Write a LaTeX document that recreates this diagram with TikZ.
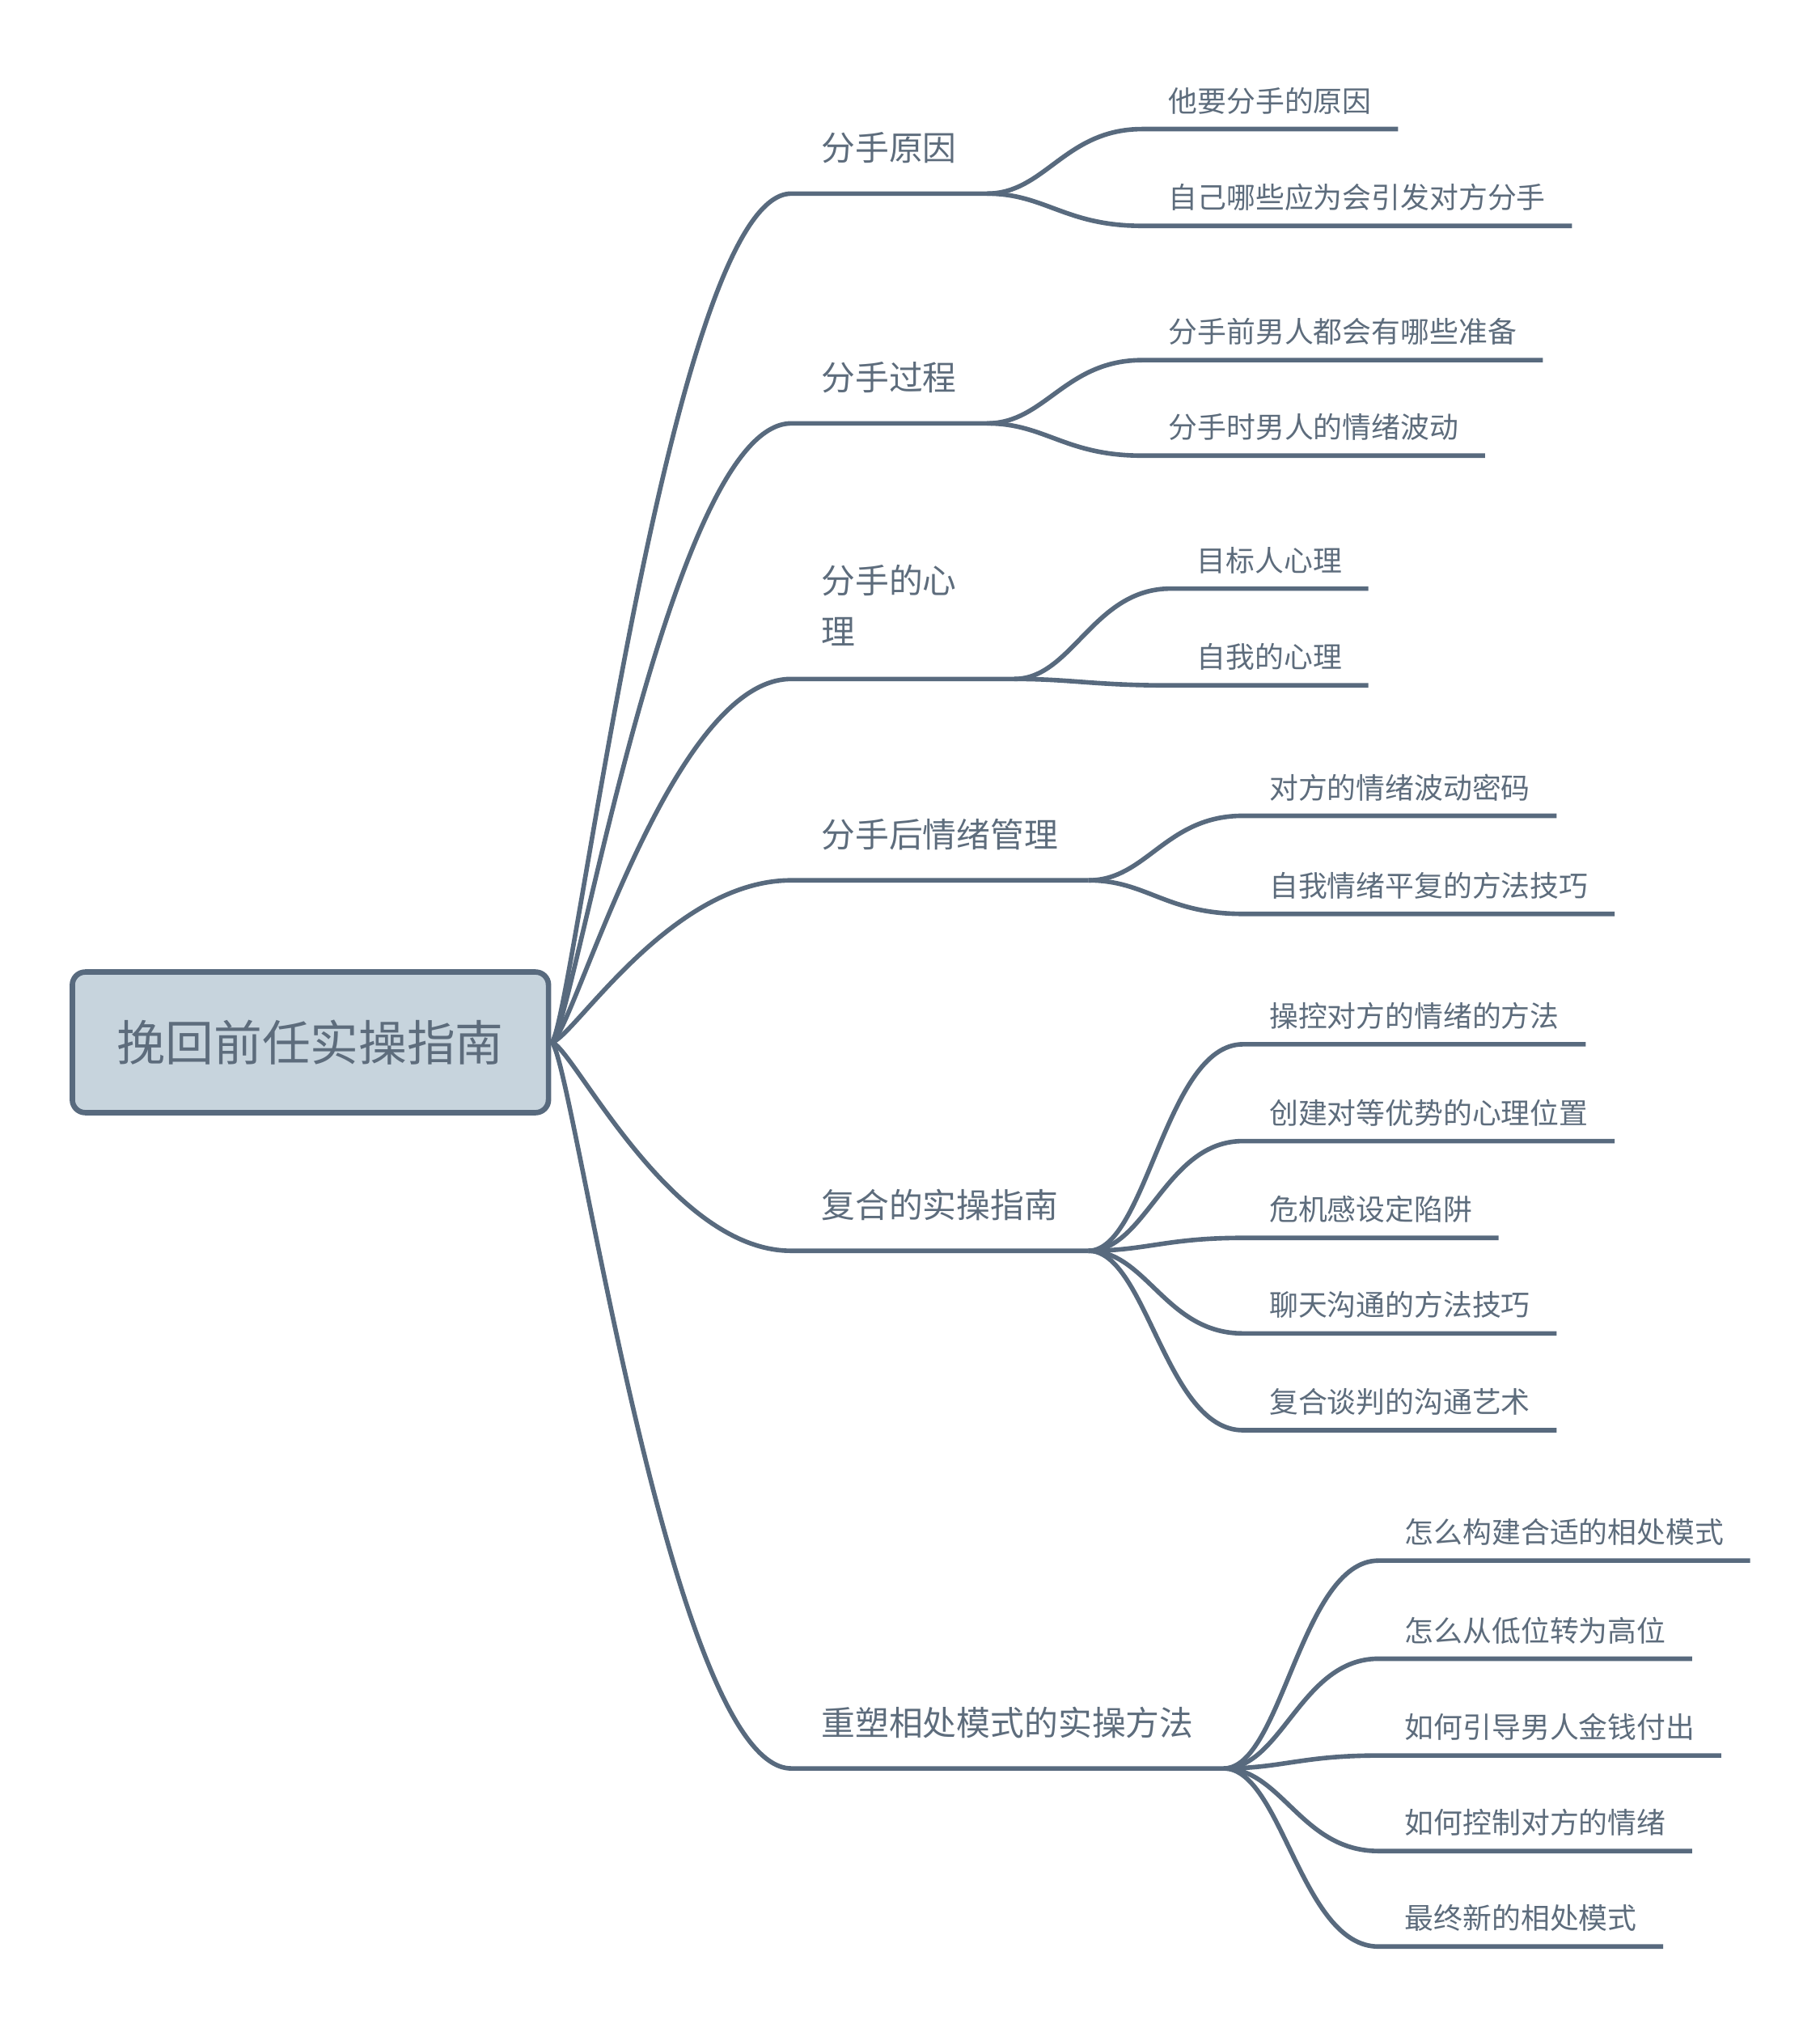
\documentclass[tikz,border=0pt]{standalone}
\usepackage{fontspec}
\setmainfont{Noto Sans CJK SC}
\usepackage{tikz}
\usetikzlibrary{positioning}

\definecolor{linegrey}{HTML}{586A7E}
\definecolor{rootfill}{HTML}{C7D4DD}
\definecolor{textgrey}{HTML}{5D6C7C}

\begin{document}
\begin{tikzpicture}[x=0.015957cm, y=-0.015957cm]
    % Define styles for the nodes
    \tikzstyle{rootbox} = [
        rectangle, rounded corners=0.16cm, draw=linegrey, line width=1.9pt,
        fill=rootfill, text=textgrey, minimum width=5.888cm, minimum height=1.739cm,
        font=\fontsize{17pt}{20pt}\selectfont
    ]
    \tikzstyle{topic} = [
        anchor=base west, inner xsep=0.367cm, inner ysep=0pt, text=textgrey,
        font=\fontsize{11.9pt}{18.1pt}\selectfont
    ]
    \tikzstyle{subtopic} = [
        anchor=base west, inner xsep=0.319cm, inner ysep=0pt, text=textgrey,
        font=\fontsize{10.2pt}{12pt}\selectfont
    ]
    \tikzstyle{branch} = [draw=linegrey, line width=1.6pt]

    \useasboundingbox (0,0) rectangle (1410,1568);

    % Root
    \node[rootbox] (root) at (240.5,807.5) {挽回前任实操指南};

    % Main topics
    \coordinate (c1) at (613,150);
    \node[topic, yshift=0.408cm] (t1) at (c1) {分手原因};
    \coordinate (c2) at (613,328);
    \node[topic, yshift=0.408cm] (t2) at (c2) {分手过程};
    \coordinate (c3) at (613,526);
    \node[topic, yshift=1.063cm, text width=2.01cm, align=left] (t3) at (c3) {分手的心\\理};
    \coordinate (c4) at (613,682);
    \node[topic, yshift=0.408cm] (t4) at (c4) {分手后情绪管理};
    \coordinate (c5) at (613,969);
    \node[topic, yshift=0.408cm] (t5) at (c5) {复合的实操指南};
    \coordinate (c6) at (613,1370);
    \node[topic, yshift=0.408cm] (t6) at (c6) {重塑相处模式的实操方法};

    \coordinate (j1) at (c1 -| t1.east);
    \coordinate (j2) at (c2 -| t2.east);
    \coordinate (j3) at (c3 -| t3.east);
    \coordinate (j4) at (c4 -| t4.east);
    \coordinate (j5) at (c5 -| t5.east);
    \coordinate (j6) at (c6 -| t6.east);

    % Subtopics 1
    \coordinate (s11) at (885,100);
    \node[subtopic, yshift=0.214cm] (u11) at (s11) {他要分手的原因};
    \coordinate (s12) at (885,175);
    \node[subtopic, yshift=0.214cm] (u12) at (s12) {自己哪些应为会引发对方分手};

    % Subtopics 2
    \coordinate (s21) at (885,279);
    \node[subtopic, yshift=0.214cm] (u21) at (s21) {分手前男人都会有哪些准备};
    \coordinate (s22) at (885,353);
    \node[subtopic, yshift=0.214cm] (u22) at (s22) {分手时男人的情绪波动};

    % Subtopics 3
    \coordinate (s31) at (907,456);
    \node[subtopic, yshift=0.214cm] (u31) at (s31) {目标人心理};
    \coordinate (s32) at (907,531);
    \node[subtopic, yshift=0.214cm] (u32) at (s32) {自我的心理};

    % Subtopics 4
    \coordinate (s41) at (963,632);
    \node[subtopic, yshift=0.214cm] (u41) at (s41) {对方的情绪波动密码};
    \coordinate (s42) at (963,708);
    \node[subtopic, yshift=0.214cm] (u42) at (s42) {自我情绪平复的方法技巧};

    % Subtopics 5
    \coordinate (s51) at (963,809);
    \node[subtopic, yshift=0.214cm] (u51) at (s51) {操控对方的情绪的方法};
    \coordinate (s52) at (963,884);
    \node[subtopic, yshift=0.214cm] (u52) at (s52) {创建对等优势的心理位置};
    \coordinate (s53) at (963,959);
    \node[subtopic, yshift=0.214cm] (u53) at (s53) {危机感设定陷阱};
    \coordinate (s54) at (963,1033);
    \node[subtopic, yshift=0.214cm] (u54) at (s54) {聊天沟通的方法技巧};
    \coordinate (s55) at (963,1108);
    \node[subtopic, yshift=0.214cm] (u55) at (s55) {复合谈判的沟通艺术};

    % Subtopics 6
    \coordinate (s61) at (1068,1209);
    \node[subtopic, yshift=0.214cm] (u61) at (s61) {怎么构建合适的相处模式};
    \coordinate (s62) at (1068,1285);
    \node[subtopic, yshift=0.214cm] (u62) at (s62) {怎么从低位转为高位};
    \coordinate (s63) at (1068,1360);
    \node[subtopic, yshift=0.214cm] (u63) at (s63) {如何引导男人金钱付出};
    \coordinate (s64) at (1068,1434);
    \node[subtopic, yshift=0.214cm] (u64) at (s64) {如何控制对方的情绪};
    \coordinate (s65) at (1068,1508);
    \node[subtopic, yshift=0.214cm] (u65) at (s65) {最终新的相处模式};

    % Root -> main topics
    \draw[branch] (root.east) .. controls +(15,0) and +(-95,0) .. (c1) -- (j1);
    \draw[branch] (root.east) .. controls +(15,0) and +(-95,0) .. (c2) -- (j2);
    \draw[branch] (root.east) .. controls +(15,0) and +(-95,0) .. (c3) -- (j3);
    \draw[branch] (root.east) .. controls +(15,0) and +(-95,0) .. (c4) -- (j4);
    \draw[branch] (root.east) .. controls +(15,0) and +(-95,0) .. (c5) -- (j5);
    \draw[branch] (root.east) .. controls +(15,0) and +(-95,0) .. (c6) -- (j6);

    % Main topics -> subtopics
    \draw[branch] (j1) .. controls +(45,0) and +(-60,0) .. (s11) -- (s11 -| u11.east);
    \draw[branch] (j1) .. controls +(45,0) and +(-60,0) .. (s12) -- (s12 -| u12.east);

    \draw[branch] (j2) .. controls +(45,0) and +(-60,0) .. (s21) -- (s21 -| u21.east);
    \draw[branch] (j2) .. controls +(45,0) and +(-60,0) .. (s22) -- (s22 -| u22.east);

    \draw[branch] (j3) .. controls +(45,0) and +(-60,0) .. (s31) -- (s31 -| u31.east);
    \draw[branch] (j3) .. controls +(45,0) and +(-60,0) .. (s32) -- (s32 -| u32.east);

    \draw[branch] (j4) .. controls +(45,0) and +(-60,0) .. (s41) -- (s41 -| u41.east);
    \draw[branch] (j4) .. controls +(45,0) and +(-60,0) .. (s42) -- (s42 -| u42.east);

    \draw[branch] (j5) .. controls +(45,0) and +(-60,0) .. (s51) -- (s51 -| u51.east);
    \draw[branch] (j5) .. controls +(45,0) and +(-60,0) .. (s52) -- (s52 -| u52.east);
    \draw[branch] (j5) .. controls +(45,0) and +(-60,0) .. (s53) -- (s53 -| u53.east);
    \draw[branch] (j5) .. controls +(45,0) and +(-60,0) .. (s54) -- (s54 -| u54.east);
    \draw[branch] (j5) .. controls +(45,0) and +(-60,0) .. (s55) -- (s55 -| u55.east);

    \draw[branch] (j6) .. controls +(45,0) and +(-60,0) .. (s61) -- (s61 -| u61.east);
    \draw[branch] (j6) .. controls +(45,0) and +(-60,0) .. (s62) -- (s62 -| u62.east);
    \draw[branch] (j6) .. controls +(45,0) and +(-60,0) .. (s63) -- (s63 -| u63.east);
    \draw[branch] (j6) .. controls +(45,0) and +(-60,0) .. (s64) -- (s64 -| u64.east);
    \draw[branch] (j6) .. controls +(45,0) and +(-60,0) .. (s65) -- (s65 -| u65.east);

\end{tikzpicture}
\end{document}
